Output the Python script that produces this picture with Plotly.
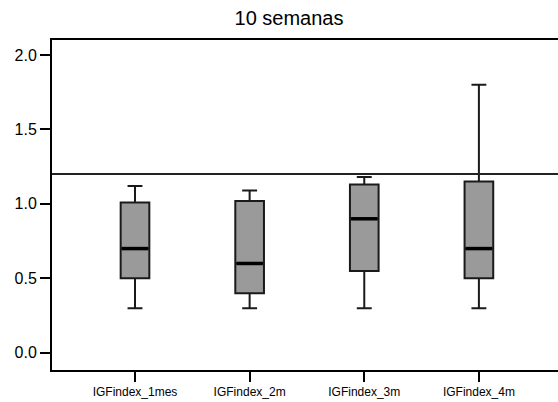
import plotly.graph_objects as go

categories = ["IGFindex_1mes", "IGFindex_2m", "IGFindex_3m", "IGFindex_4m"]
lower = [0.3, 0.3, 0.3, 0.3]
q1 = [0.5, 0.4, 0.55, 0.5]
median = [0.7, 0.6, 0.9, 0.7]
q3 = [1.01, 1.02, 1.13, 1.15]
upper = [1.12, 1.09, 1.18, 1.8]
ref_value = 1.2
y_ticks = [0.0, 0.5, 1.0, 1.5, 2.0]
title_text = "10 semanas"

positions = list(range(len(categories)))
box_w = 0.25

fig = go.Figure()
fig.add_trace(go.Box(
    x=positions, q1=q1, median=median, q3=q3,
    lowerfence=lower, upperfence=upper,
    width=box_w, whiskerwidth=0.52,
    fillcolor="#9a9a9a",
    line=dict(color="#1a1a1a", width=2),
    boxpoints=False, showlegend=False, hoverinfo="skip",
))
# thick median lines
for p, m in zip(positions, median):
    fig.add_shape(type="line", x0=p - box_w / 2 + 0.01, x1=p + box_w / 2 - 0.01,
                  y0=m, y1=m, xref="x", yref="y",
                  line=dict(color="black", width=3.5))
fig.add_shape(type="line", xref="paper", x0=0, x1=1, yref="y", y0=ref_value, y1=ref_value,
              line=dict(color="#222222", width=2))

fig.update_layout(
    width=558, height=402,
    margin=dict(l=52, r=0, t=40, b=32, autoexpand=False),
    paper_bgcolor="white", plot_bgcolor="white",
    font=dict(family="Liberation Sans, Arial, sans-serif", color="black"),
    title=dict(text=title_text, x=289 / 558, xanchor="center", xref="container",
               y=1 - 18 / 402, yanchor="middle", yref="container",
               font=dict(size=20, color="black")),
    xaxis=dict(range=[-0.724, 3.69], tickmode="array", tickvals=positions,
               ticktext=categories, showgrid=False, zeroline=False,
               showline=True, linecolor="black", linewidth=2, mirror=True,
               ticks="outside", ticklen=10, tickwidth=2, tickcolor="black",
               tickfont=dict(size=12), automargin=False),
    yaxis=dict(range=[-0.115, 2.1], tickmode="array", tickvals=y_ticks,
               ticktext=[f"{v:.1f}" for v in y_ticks], showgrid=False, zeroline=False,
               showline=True, linecolor="black", linewidth=2, mirror=False,
               ticks="outside", ticklen=10, tickwidth=2, tickcolor="black",
               tickfont=dict(size=16), automargin=False),
)
fig.write_html("out.html", config={"displayModeBar": False},
               post_script="document.body.style.margin='0';document.body.style.overflow='hidden';")
